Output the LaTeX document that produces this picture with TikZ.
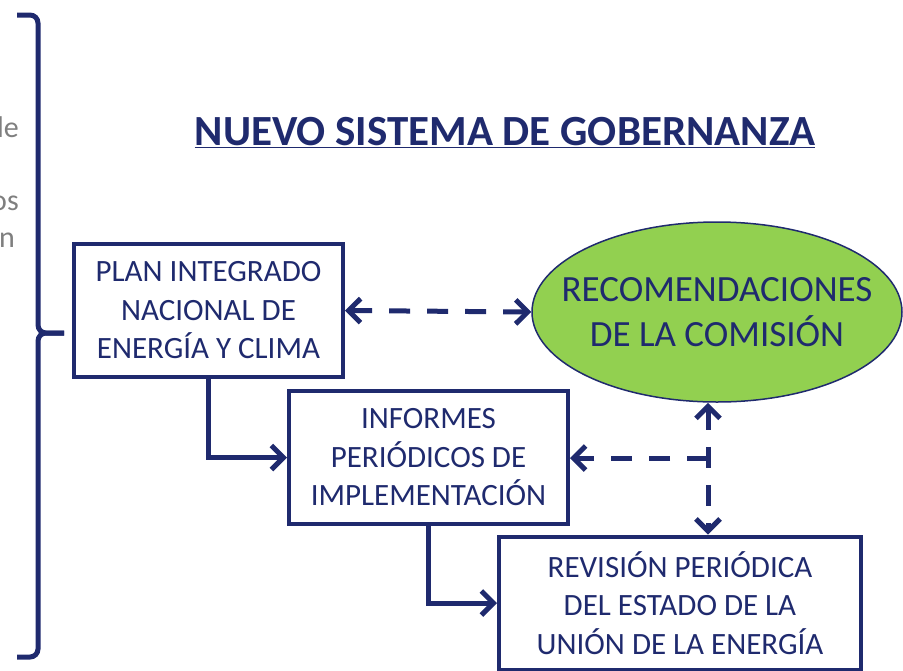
\documentclass[tikz,border=0pt]{standalone}
\usepackage{fontspec}
\setmainfont{Carlito}
\usetikzlibrary{arrows.meta,shapes.geometric}

\definecolor{govnavy}{HTML}{1F2A6E}
\definecolor{govgreen}{HTML}{92D050}
\definecolor{govgray}{HTML}{7F7F7F}

\begin{document}
\begin{tikzpicture}[x=1pt,y=-1pt]
\tikzset{ >={Straight Barb[length=12pt,width=24pt]},
  box/.style={draw=govnavy, line width=4pt, text=govnavy, align=center, inner sep=0pt,
              minimum height=133pt, font=\fontsize{31}{38.5}\selectfont},
  flow/.style={->, draw=govnavy, line width=5pt},
  link/.style={flow, dash pattern=on 21pt off 17pt},
  frag/.style={anchor=base east, inner sep=0pt, text=govgray, font=\fontsize{30}{36}\selectfont},
}

\useasboundingbox (0,0) rectangle (903,670);
\clip (0,0) rectangle (903,670);
%\draw [lightgray, dashed](0,0) grid (903,670);

\node [frag] (frag1) at (19,137) {de};
\node [frag] (frag2) at (19,210) {os};
\node [frag] (frag3) at (15,247) {n};

\draw [govnavy, line width=5pt, rounded corners=8pt] (17,15) -| (38,333) -- (64,333);
\draw [govnavy, line width=5pt, rounded corners=8pt] (17,657) -| (38,333) -- (64,333);

\node [text=govnavy, font=\bfseries\fontsize{43}{50}\selectfont] (titulo) at (505,133) {\underline{NUEVO SISTEMA DE GOBERNANZA}};

\node [box, minimum width=269pt] (plan) at (208.5,310.5) {PLAN INTEGRADO\\NACIONAL DE\\ENERGÍA Y CLIMA};
\node [box, minimum width=279pt] (informes) at (428.5,457.5) {INFORMES\\PERIÓDICOS DE\\IMPLEMENTACIÓN};
\node [box, minimum width=362pt] (revision) at (680,603) {REVISIÓN PERIÓDICA\\DEL ESTADO DE LA\\UNIÓN DE LA ENERGÍA};
\node [ellipse, fill=govgreen, draw=govnavy, line width=1.5pt, minimum width=370pt, minimum height=180pt,
       inner xsep=-35pt, inner ysep=0pt, text=govnavy, align=center, font=\fontsize{37}{45}\selectfont]
      (recom) at (717,312) {RECOMENDACIONES\\DE LA COMISIÓN};

\draw [flow] (plan.south) |- (informes.west);
\draw [flow] (informes.south) |- (revision.west);

\draw [link, <->] (plan.east) -- (recom.west);
\coordinate (cruce) at (708,458);
\draw [link] (cruce) -- (cruce -| informes.east);
\draw [link, <->] (recom.south -| cruce) -- (revision.north -| cruce);
\end{tikzpicture}
\end{document}
